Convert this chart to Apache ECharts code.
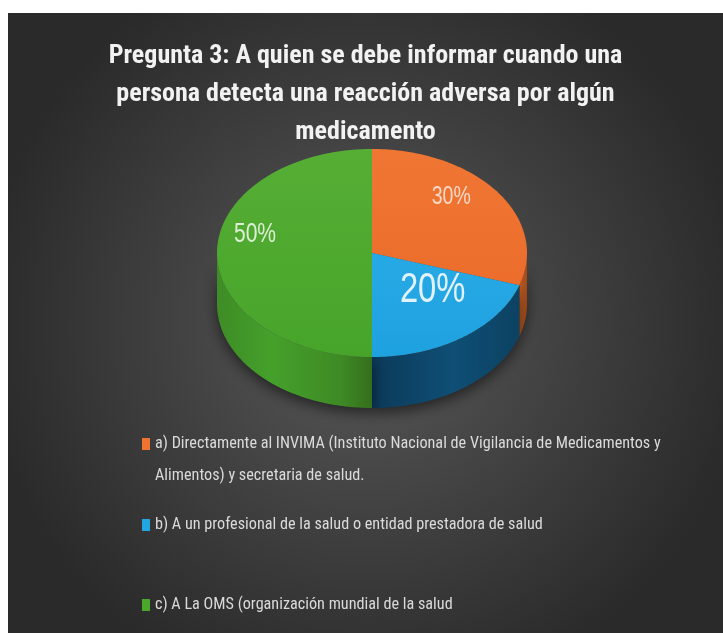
<!DOCTYPE html>
<html><head><meta charset="utf-8">
<script src="https://cdn.jsdelivr.net/npm/echarts@6/dist/echarts.min.js"></script>
<style>html,body{margin:0;padding:0;background:#fff;width:723px;height:633px;overflow:hidden}
#c{position:absolute;left:8px;top:13px;width:715px;height:620px}</style></head>
<body><div id="c"></div><script>
// ---- data ----
const titleText = 'Pregunta 3: A quien se debe informar cuando una\npersona detecta una reacción adversa por algún\nmedicamento';
const categories = [
  'a) Directamente al INVIMA (Instituto Nacional de Vigilancia de Medicamentos y Alimentos) y secretaria de salud.',
  'b) A un profesional de la salud o entidad prestadora de salud',
  'c) A La OMS (organización mundial de la salud'
];
const values = [30, 20, 50];

// ---- styles ----
const FONT = "'Roboto Condensed', 'DejaVu Sans Condensed', 'DejaVu Sans', sans-serif";
const topColors = [['#F07634', '#EC6D2C'], ['#27A9E5', '#1EA2DF'], ['#56AE35', '#47A42A']];
const legendColors = ['#EE7230', '#22A6E2', '#4AA72A'];
const wallStops = [
  [[0, '#B5561F'], [1, '#A44B1A']],
  [[0, '#0B3A59'], [0.55, '#0F4E75'], [1, '#0C4262']],
  [[0, '#3E8C26'], [0.35, '#45A02B'], [0.8, '#3E8A25'], [1, '#356E1D']]
];
const labelColors = ['#F8D9C6', '#E2F2FB', '#DCEFD4'];
const labelSizes = [25, 42, 27];
const labelShift = [[4, -19], [6, -13], [-24, -18]];
const PIE = { cx: 364, cy: 240, rx: 155, ry: 104, depth: 51 };
const legendTops = [378, 491, 571];

const chart = echarts.init(document.getElementById('c'));
const total = values.reduce((a, b) => a + b, 0);

function makeRender(i) {
  return function (params, api) {
    const v = api.value(0);
    let before = 0;
    for (let k = 0; k < i; k++) before += values[k];
    const a0 = before / total * 2 * Math.PI;
    const a1 = (before + v) / total * 2 * Math.PI;
    const { cx, cy, rx, ry, depth } = PIE;
    const pt = (a, dy) => [cx + rx * Math.sin(a), cy - ry * Math.cos(a) + (dy || 0)];
    const N = 90;
    const children = [];
    const w0 = Math.max(a0, Math.PI / 2), w1 = Math.min(a1, 1.5 * Math.PI);
    if (w1 > w0) {
      const wall = [];
      for (let s = 0; s <= N; s++) wall.push(pt(w0 + (w1 - w0) * s / N));
      for (let s = N; s >= 0; s--) wall.push(pt(w0 + (w1 - w0) * s / N, depth));
      children.push({
        type: 'polygon', z2: 1,
        shape: { points: wall },
        style: {
          fill: new echarts.graphic.LinearGradient(0, 0, 1, 0,
            wallStops[i].map(s => ({ offset: s[0], color: s[1] }))),
          shadowBlur: 14, shadowColor: 'rgba(0,0,0,0.55)', shadowOffsetY: 5
        }
      });
    }
    const top = [[cx, cy]];
    for (let s = 0; s <= N; s++) top.push(pt(a0 + (a1 - a0) * s / N));
    children.push({
      type: 'polygon', z2: 2,
      shape: { points: top },
      style: {
        fill: new echarts.graphic.LinearGradient(0, 0, 0, 1, [
          { offset: 0, color: topColors[i][0] }, { offset: 1, color: topColors[i][1] }])
      }
    });
    const am = (a0 + a1) / 2;
    const lp = [cx + 0.6 * rx * Math.sin(am) + labelShift[i][0], cy - 0.6 * ry * Math.cos(am) + labelShift[i][1]];
    children.push({
      type: 'text', z2: 3, x: lp[0], y: lp[1], scaleX: 0.78,
      style: {
        text: Math.round(v / total * 100) + '%',
        fill: labelColors[i], fontSize: labelSizes[i],
        fontFamily: 'Liberation Sans, Arial, sans-serif', align: 'center', verticalAlign: 'middle'
      }
    });
    return { type: 'group', children };
  };
}

const series = categories.map((name, i) => ({
  type: 'custom', name: name, coordinateSystem: 'none',
  itemStyle: { color: legendColors[i] },
  data: [values[i]],
  renderItem: makeRender(i),
  silent: true, animation: false
}));

const legends = categories.map((name, i) => ({
  data: [name], left: 129, top: legendTops[i], orient: 'vertical',
  icon: 'rect', itemWidth: 8, itemHeight: 12, itemGap: 0, selectedMode: false,
  formatter: i === 0 ? (n => '\n' + n) : (n => n),
  textStyle: {
    color: '#DADADA', fontFamily: FONT, fontSize: 16.2,
    width: 530, overflow: 'break', lineHeight: 32
  }
}));

chart.setOption({
  animation: false,
  graphic: [{
    type: 'rect', z: -10, silent: true,
    shape: { x: 0, y: 0, width: 715, height: 620 },
    style: {
      fill: new echarts.graphic.RadialGradient(0.5, 0.5, 0.62, [
        { offset: 0, color: '#595959' }, { offset: 1, color: '#2A2A2A' }])
    }
  }],
  title: {
    text: titleText, left: 'center', top: 24, padding: [0, 0, 0, 20],
    textStyle: {
      color: '#F2F2F2', fontFamily: FONT, fontWeight: 'bold',
      fontSize: 26, lineHeight: 38
    }
  },
  legend: legends,
  series: series
});
</script></body></html>
